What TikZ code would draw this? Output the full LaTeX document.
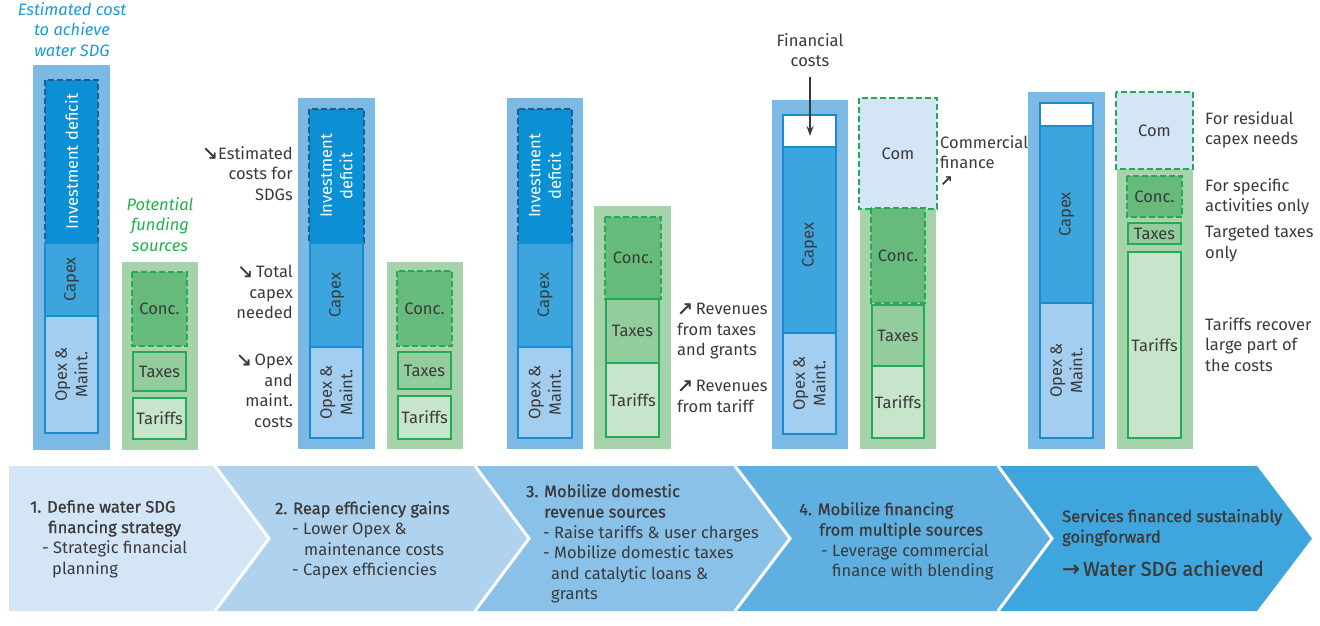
\documentclass[tikz,border=0pt]{standalone}
\usepackage{fontspec}
\setmainfont{Fira Sans}
\newfontfamily\headfont{Fira Sans}[FakeBold=1]
\newfontfamily\arrowfont{DejaVu Sans}[FakeBold=1.5]
\usetikzlibrary{arrows.meta}

\definecolor{barblue}{HTML}{7DB9E5}
\definecolor{deficitblue}{HTML}{0B8FD5}
\definecolor{deficitedge}{HTML}{1F5F8E}
\definecolor{capexblue}{HTML}{3DA5DD}
\definecolor{opexblue}{HTML}{A3CEEF}
\definecolor{segedge}{HTML}{1A8BCF}
\definecolor{bargreen}{HTML}{A6D3A9}
\definecolor{concgreen}{HTML}{66BA7B}
\definecolor{taxgreen}{HTML}{93CC9D}
\definecolor{tariffgreen}{HTML}{C6E5CA}
\definecolor{edgegreen}{HTML}{22AA57}
\definecolor{comblue}{HTML}{D4E6F6}
\definecolor{titleblue}{HTML}{1B9AD7}
\definecolor{titlegreen}{HTML}{22B24C}
\definecolor{textgray}{HTML}{3A3A3A}
\definecolor{chevA}{HTML}{D4E5F5}
\definecolor{chevB}{HTML}{AFD2EE}
\definecolor{chevC}{HTML}{8AC1E8}
\definecolor{chevD}{HTML}{5FB0E1}
\definecolor{chevE}{HTML}{3EA6DD}

\newcommand{\dnarrow}{{\arrowfont\fontsize{19}{20}\selectfont ↘}}
\newcommand{\uparrowsym}{{\arrowfont\fontsize{19}{20}\selectfont ↗}}

\begin{document}
\begin{tikzpicture}[x=1pt, y=-1pt,
    txt/.style={font=\fontsize{16.5}{20.5}\selectfont, text=textgray, inner sep=0pt},
    vtxt/.style={txt, rotate=90, align=center},
    title/.style={font=\fontsize{16.5}{20.5}\selectfont\itshape, inner sep=0pt, align=center, anchor=north},
    outerblue/.style={fill=barblue},
    outergreen/.style={fill=bargreen},
    deficit/.style={fill=deficitblue, draw=deficitedge, line width=1.2pt, dash pattern=on 6pt off 3pt},
    capexseg/.style={fill=capexblue, draw=segedge, line width=1.2pt},
    opexseg/.style={fill=opexblue, draw=segedge, line width=1.2pt},
    finseg/.style={fill=white, draw=segedge, line width=1.2pt},
    concseg/.style={fill=concgreen, draw=edgegreen, line width=1.3pt, dash pattern=on 6pt off 3pt},
    comseg/.style={fill=comblue, draw=edgegreen, line width=1.3pt, dash pattern=on 6pt off 3pt},
    taxseg/.style={fill=taxgreen, draw=edgegreen, line width=1.2pt},
    tariffseg/.style={fill=tariffgreen, draw=edgegreen, line width=1.2pt},
    chevtxt/.style={txt, align=left, anchor=north west},
    sep/.style={draw=white, line width=3pt}]
    \useasboundingbox (0,0) rectangle (1320,626);

    %Column 1
    \node[title, text=titleblue] (t1) at (72,2) {Estimated cost\\to achieve\\water SDG};
    \fill[outerblue] (33,65) rectangle (110,450);
    \draw[deficit] (45,80) rectangle (98,243);
    \draw[capexseg] (45,243) rectangle (98,316);
    \draw[opexseg] (45,316) rectangle (98,433);
    \node[vtxt, text=white] (b1def) at (71.5,161.5) {Investment deficit};
    \node[vtxt] (b1capex) at (71.5,279.5) {Capex};
    \node[vtxt] (b1opex) at (71.5,374.5) {Opex \&\\Maint.};

    \node[title, text=titlegreen] (t2) at (160,197) {Potential\\funding\\sources};
    \fill[outergreen] (122,262) rectangle (198,450);
    \draw[concseg] (132,272) rectangle (187,346);
    \draw[taxseg] (133,352) rectangle (186,391);
    \draw[tariffseg] (133,398) rectangle (186,439);
    \node[txt] (g1conc) at (159.5,309) {Conc.};
    \node[txt] (g1tax) at (159.5,371.5) {Taxes};
    \node[txt] (g1tar) at (159.5,418.5) {Tariffs};

    %Column 2
    \node[txt, align=right, anchor=north east] (l2a) at (293,146) {\dnarrow Estimated\\costs for\\SDGs};
    \node[txt, align=right, anchor=north east] (l2b) at (293,265) {\dnarrow\,Total\\capex\\needed};
    \node[txt, align=right, anchor=north east] (l2c) at (293,354) {\dnarrow\,Opex\\and\\maint.\\costs};
    \fill[outerblue] (298,98) rectangle (375,449);
    \draw[deficit] (309,109) rectangle (364,243);
    \draw[capexseg] (310,243) rectangle (363,347);
    \draw[opexseg] (310,347) rectangle (363,438);
    \node[vtxt, text=white] (b2def) at (336.5,176) {Investment\\deficit};
    \node[vtxt] (b2capex) at (336.5,295) {Capex};
    \node[vtxt] (b2opex) at (336.5,392.5) {Opex \&\\Maint.};

    \fill[outergreen] (387,262) rectangle (463,449);
    \draw[concseg] (397,271) rectangle (452,346);
    \draw[taxseg] (398,352) rectangle (451,389);
    \draw[tariffseg] (398,396) rectangle (451,439);
    \node[txt] (g2conc) at (424.5,308.5) {Conc.};
    \node[txt] (g2tax) at (424.5,370.5) {Taxes};
    \node[txt] (g2tar) at (424.5,417.5) {Tariffs};

    %Column 3
    \fill[outerblue] (507,98) rectangle (583,449);
    \draw[deficit] (518,109) rectangle (572,243);
    \draw[capexseg] (518,243) rectangle (572,347);
    \draw[opexseg] (518,347) rectangle (572,438);
    \node[vtxt, text=white] (b3def) at (545,176) {Investment\\deficit};
    \node[vtxt] (b3capex) at (545,295) {Capex};
    \node[vtxt] (b3opex) at (545,392.5) {Opex \&\\Maint.};

    \fill[outergreen] (594,206) rectangle (671,449);
    \draw[concseg] (605,217) rectangle (661,299);
    \draw[taxseg] (606,299) rectangle (659,363);
    \draw[tariffseg] (606,363) rectangle (659,437);
    \node[txt] (g3conc) at (633,258) {Conc.};
    \node[txt] (g3tax) at (632.5,331) {Taxes};
    \node[txt] (g3tar) at (632.5,400) {Tariffs};
    \node[txt, align=left, anchor=north west] (l3a) at (677,303) {\uparrowsym\,Revenues\\from taxes\\and grants};
    \node[txt, align=left, anchor=north west] (l3b) at (677,380) {\uparrowsym\,Revenues\\from tariff};

    %Column 4
    \node[txt, align=center, anchor=north] (fincost) at (810,33) {Financial\\costs};
    \coordinate (finend) at (810,136);
    \fill[outerblue] (772,100) rectangle (848,449);
    \draw[finseg] (783,115) rectangle (836,147);
    \draw[capexseg] (783,147) rectangle (836,333);
    \draw[opexseg] (783,333) rectangle (836,434);
    \node[vtxt] (b4capex) at (809.5,245) {Capex};
    \node[vtxt] (b4opex) at (809.5,383.5) {Opex \&\\Maint.};
    \draw[-{Stealth[length=10pt, width=7pt]}, line width=1.5pt, textgray] (fincost.south) ++(0,10) -- (finend);

    \fill[outergreen] (860,209) rectangle (936,449);
    \draw[comseg] (859,98) rectangle (937,209);
    \draw[concseg] (871,208) rectangle (925,303);
    \draw[taxseg] (872,305) rectangle (924,366);
    \draw[tariffseg] (872,366) rectangle (924,438);
    \node[txt] (g4com) at (898,153.5) {Com};
    \node[txt] (g4conc) at (898,255.5) {Conc.};
    \node[txt] (g4tax) at (898,335.5) {Taxes};
    \node[txt] (g4tar) at (898,402) {Tariffs};
    \node[txt, align=left, anchor=north west] (l4) at (940,135) {Commercial\\finance\\[-4pt]{\arrowfont\fontsize{15}{16}\selectfont ↗}};

    %Column 5
    \fill[outerblue] (1028,92) rectangle (1105,449);
    \draw[finseg] (1040,103) rectangle (1093,126);
    \draw[capexseg] (1040,126) rectangle (1093,303);
    \draw[opexseg] (1040,303) rectangle (1093,438);
    \node[vtxt] (b5capex) at (1066.5,214.5) {Capex};
    \node[vtxt] (b5opex) at (1066.5,370.5) {Opex \&\\Maint.};

    \fill[outergreen] (1117,169) rectangle (1193,449);
    \draw[comseg] (1116,92) rectangle (1193,169);
    \draw[concseg] (1127,176) rectangle (1182,217);
    \draw[taxseg] (1128,223) rectangle (1181,244);
    \draw[tariffseg] (1128,252) rectangle (1181,438);
    \node[txt] (g5com) at (1154.5,130.5) {Com};
    \node[txt] (g5conc) at (1154.5,196.5) {Conc.};
    \node[txt] (g5tax) at (1154.5,233.5) {Taxes};
    \node[txt] (g5tar) at (1154.5,345) {Tariffs};
    \node[txt, align=left, anchor=north west] (l5a) at (1205,111) {For residual\\capex needs};
    \node[txt, align=left, anchor=north west] (l5b) at (1205,178) {For specific\\activities only};
    \node[txt, align=left, anchor=north west] (l5c) at (1205,225) {Targeted taxes\\only};
    \node[txt, align=left, anchor=north west] (l5d) at (1205,317) {Tariffs recover\\large part of\\the costs};

    %Steps
    \fill[chevA] (9,466) -- (215,466) -- (269,538.5) -- (215,611) -- (9,611) -- cycle;
    \fill[chevB] (215,466) -- (475,466) -- (529,538.5) -- (475,611) -- (215,611) -- (269,538.5) -- cycle;
    \fill[chevC] (475,466) -- (735,466) -- (790,538.5) -- (735,611) -- (475,611) -- (529,538.5) -- cycle;
    \fill[chevD] (735,466) -- (998,466) -- (1052,538.5) -- (998,611) -- (735,611) -- (790,538.5) -- cycle;
    \fill[chevE] (998,466) -- (1257,466) -- (1312,538.5) -- (1257,611) -- (998,611) -- (1052,538.5) -- cycle;
    \draw[sep] (215,466) -- (269,538.5) -- (215,611);
    \draw[sep] (475,466) -- (529,538.5) -- (475,611);
    \draw[sep] (735,466) -- (790,538.5) -- (735,611);
    \draw[sep] (998,466) -- (1052,538.5) -- (998,611);

    \node[chevtxt] (s1) at (30,500) {{\headfont 1. Define water SDG}\\\hspace*{18pt}{\headfont financing strategy}\\\hspace*{12pt}- Strategic financial\\\hspace*{22pt}planning};
    \node[chevtxt] (s2) at (275,501) {{\headfont 2. Reap efficiency gains}\\\hspace*{17pt}- Lower Opex \&\\\hspace*{29pt}maintenance costs\\\hspace*{17pt}- Capex efficiencies};
    \node[chevtxt] (s3) at (526,484) {{\headfont 3. Mobilize domestic}\\\hspace*{18pt}{\headfont revenue sources}\\\hspace*{17pt}- Raise tariffs \& user charges\\\hspace*{17pt}- Mobilize domestic taxes\\\hspace*{25pt}and catalytic loans \&\\\hspace*{25pt}grants};
    \node[chevtxt] (s4) at (799,502) {{\headfont 4. Mobilize financing}\\\hspace*{20pt}{\headfont from multiple sources}\\\hspace*{22pt}- Leverage commercial\\\hspace*{33pt}finance with blending};
    \node[chevtxt] (s5) at (1062,509) {{\headfont Services financed sustainably}\\{\headfont goingforward}};
    \node[txt, anchor=north west, font=\fontsize{20}{22}\selectfont\headfont] (s5goal) at (1062,560) {{\arrowfont\fontsize{21}{22}\selectfont →}\,Water SDG achieved};
\end{tikzpicture}
\end{document}
